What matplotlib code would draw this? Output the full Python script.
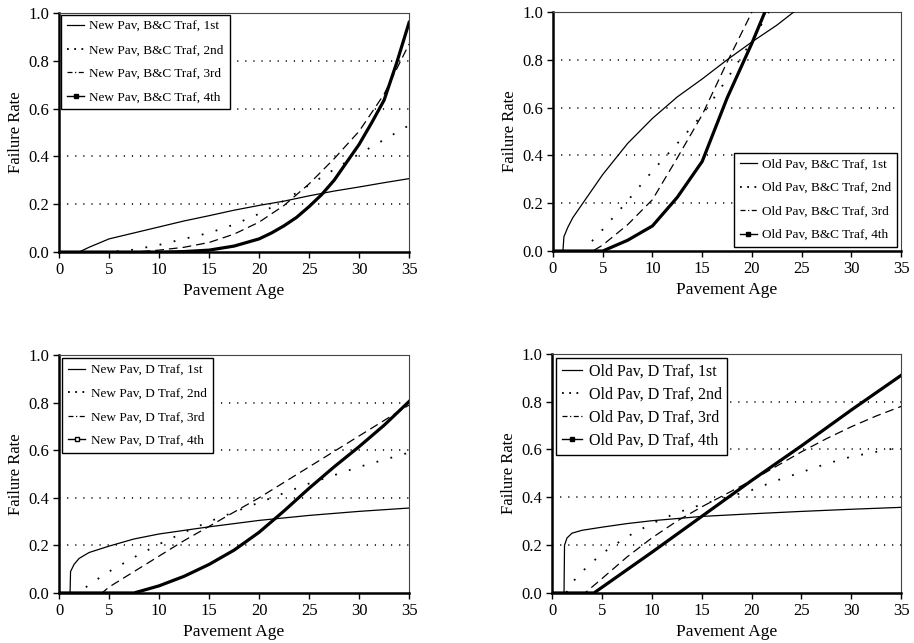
import matplotlib.pyplot as plt
from matplotlib.lines import Line2D

plt.rcParams['font.family'] = ['Liberation Serif', 'DejaVu Serif']

# ---- New pavement, B&C traffic ----
nb_age1 = [0, 2, 3, 5, 7.5, 10, 12.5, 15, 17.5, 20, 22.5, 25, 27.5, 30, 32.5, 35]
nb_rate1 = [0, 0, 0.02, 0.055, 0.08, 0.105, 0.13, 0.152, 0.175, 0.195, 0.213, 0.235, 0.255, 0.272, 0.29, 0.307]
nb_age2 = [0, 5, 7.5, 10, 12.5, 15, 17.5, 20, 22.5, 25, 27.5, 30, 32.5, 35]
nb_rate2 = [0, 0, 0.01, 0.03, 0.055, 0.08, 0.115, 0.16, 0.215, 0.28, 0.345, 0.41, 0.47, 0.53]
nb_age3 = [0, 7.5, 10, 12.5, 15, 17.5, 20, 22.5, 25, 27.5, 30, 32.5, 35]
nb_rate3 = [0, 0, 0.008, 0.02, 0.04, 0.075, 0.125, 0.195, 0.285, 0.39, 0.505, 0.66, 0.87]
nb_age4 = [0, 10, 12.5, 15, 17.5, 20, 21.25, 22.5, 23.75, 25, 26.25, 27.5, 28.75, 30, 31.25, 32.5, 33.75, 35]
nb_rate4 = [0, 0, 0.002, 0.008, 0.025, 0.055, 0.08, 0.11, 0.145, 0.19, 0.24, 0.3, 0.375, 0.45, 0.54, 0.635, 0.79, 0.96]

# ---- Old pavement, B&C traffic ----
ob_age1 = [0, 1.0, 1.1, 1.5, 2, 3, 4, 5, 7.5, 10, 12.5, 15, 17.5, 20, 22.5, 24.2]
ob_rate1 = [0, 0, 0.06, 0.1, 0.14, 0.2, 0.26, 0.32, 0.45, 0.555, 0.645, 0.72, 0.8, 0.875, 0.945, 1.0]
ob_age2 = [0, 3, 5, 7.5, 10, 12.5, 15, 17.5, 20, 21.7]
ob_rate2 = [0, 0, 0.09, 0.21, 0.335, 0.45, 0.57, 0.72, 0.88, 1.0]
ob_age3 = [0, 4, 5, 7.5, 10, 12.5, 15, 17.5, 20]
ob_rate3 = [0, 0, 0.025, 0.11, 0.215, 0.39, 0.57, 0.79, 1.0]
ob_age4 = [0, 5, 7.5, 10, 12.5, 15, 17.5, 20, 21.3]
ob_rate4 = [0, 0, 0.045, 0.105, 0.225, 0.375, 0.64, 0.87, 1.0]

# ---- New pavement, D traffic ----
nd_age1 = [0, 1.1, 1.15, 1.5, 2, 3, 5, 7.5, 10, 15, 20, 25, 30, 35]
nd_rate1 = [0, 0, 0.09, 0.12, 0.145, 0.17, 0.197, 0.227, 0.248, 0.278, 0.305, 0.326, 0.343, 0.357]
nd_age2 = [0, 2, 3, 5, 7.5, 10, 12.5, 15, 17.5, 20, 22.5, 25, 27.5, 30, 32.5, 35]
nd_rate2 = [0, 0, 0.035, 0.09, 0.15, 0.205, 0.255, 0.3, 0.34, 0.38, 0.42, 0.46, 0.495, 0.53, 0.56, 0.59]
nd_age3 = [0, 4.3, 5, 7.5, 10, 12.5, 15, 17.5, 20, 22.5, 25, 27.5, 30, 32.5, 35]
nd_rate3 = [0, 0, 0.025, 0.09, 0.155, 0.22, 0.28, 0.34, 0.4, 0.465, 0.53, 0.595, 0.66, 0.725, 0.79]
nd_age4 = [0, 7.5, 10, 12.5, 15, 17.5, 20, 22.5, 25, 27.5, 30, 32.5, 35]
nd_rate4 = [0, 0, 0.03, 0.07, 0.12, 0.18, 0.255, 0.345, 0.44, 0.53, 0.615, 0.705, 0.805]

# ---- Old pavement, D traffic ----
od_age1 = [0, 1.2, 1.25, 1.5, 2, 3, 5, 7.5, 10, 15, 20, 25, 30, 35]
od_rate1 = [0, 0, 0.2, 0.23, 0.25, 0.262, 0.275, 0.29, 0.302, 0.32, 0.331, 0.341, 0.35, 0.358]
od_age2 = [0, 1.4, 2.5, 5, 7.5, 10, 12.5, 15, 17.5, 20, 22.5, 25, 27.5, 30, 32.5, 35]
od_rate2 = [0, 0, 0.07, 0.165, 0.235, 0.29, 0.335, 0.37, 0.4, 0.43, 0.47, 0.505, 0.54, 0.57, 0.59, 0.61]
od_age3 = [0, 3.3, 5, 7.5, 10, 12.5, 15, 17.5, 20, 22.5, 25, 27.5, 30, 32.5, 35]
od_rate3 = [0, 0, 0.06, 0.15, 0.23, 0.3, 0.36, 0.415, 0.47, 0.53, 0.59, 0.645, 0.695, 0.74, 0.78]
od_age4 = [0, 4.2, 10, 15, 20, 25, 30, 35]
od_rate4 = [0, 0, 0.17, 0.32, 0.47, 0.615, 0.765, 0.91]

nb_labels = ['New Pav, B&C Traf, 1st', 'New Pav, B&C Traf, 2nd',
             'New Pav, B&C Traf, 3rd', 'New Pav, B&C Traf, 4th']
ob_labels = ['Old Pav, B&C Traf, 1st', 'Old Pav, B&C Traf, 2nd',
             'Old Pav, B&C Traf, 3rd', 'Old Pav, B&C Traf, 4th']
nd_labels = ['New Pav, D Traf, 1st', 'New Pav, D Traf, 2nd',
             'New Pav, D Traf, 3rd', 'New Pav, D Traf, 4th']
od_labels = ['Old Pav, D Traf, 1st', 'Old Pav, D Traf, 2nd',
             'Old Pav, D Traf, 3rd', 'Old Pav, D Traf, 4th']

fig = plt.figure(figsize=(9.14, 6.43), dpi=100)

dot_style = (0, (1, 7))
dash_style = (0, (7, 4))


def draw_panel(rect, series, labels, loc, pad, fsize, lspace=0.85, bpad=0.45, hollow=False):
    ax = fig.add_axes(rect)
    for y in [0.2, 0.4, 0.6, 0.8]:
        ax.axhline(y, color='k', lw=1.1, linestyle=(0, (0.8, 4.5)), zorder=1)
    (a1, r1), (a2, r2), (a3, r3), (a4, r4) = series
    ax.plot(a1, r1, color='k', lw=0.9, zorder=3)
    ax.plot(a2, r2, color='k', lw=1.3, linestyle=dot_style, zorder=3)
    ax.plot(a3, r3, color='k', lw=0.9, linestyle=dash_style, zorder=3)
    ax.plot(a4, r4, color='k', lw=2.3, zorder=4)

    ax.set_xlim(0, 35)
    ax.set_ylim(0, 1.0)
    ax.set_xticks(range(0, 36, 5))
    ax.set_yticks([0, 0.2, 0.4, 0.6, 0.8, 1.0])
    ax.set_yticklabels(['0.0', '0.2', '0.4', '0.6', '0.8', '1.0'])
    ax.tick_params(direction='out', length=4, width=1, labelsize=12, pad=3)
    ax.set_xlabel('Pavement Age', fontsize=12.5, labelpad=4)
    ax.set_ylabel('Failure Rate', fontsize=12, labelpad=3)
    for s in ['left', 'bottom']:
        ax.spines[s].set_linewidth(1.8)
    for s in ['top', 'right']:
        ax.spines[s].set_linewidth(0.8)
        ax.spines[s].set_color('#444444')

    handles = [
        Line2D([], [], color='k', lw=0.9),
        Line2D([], [], color='k', lw=1.3, linestyle=(0, (1, 3))),
        Line2D([], [], color='k', lw=0.9, linestyle=(0, (4, 2, 1, 2))),
        Line2D([], [], color='k', lw=1.0, marker='s', ms=3.5,
               mfc='white' if hollow else 'k', mec='k'),
    ]
    leg = ax.legend(handles, labels, loc=loc, fontsize=fsize, frameon=True,
                    fancybox=False, framealpha=1, edgecolor='k',
                    borderaxespad=pad, handlelength=1.3, handletextpad=0.4,
                    labelspacing=lspace, borderpad=bpad)
    leg.get_frame().set_linewidth(1.0)
    leg.set_zorder(6)
    return ax


draw_panel([0.0646, 0.608, 0.383, 0.372],
           [(nb_age1, nb_rate1), (nb_age2, nb_rate2), (nb_age3, nb_rate3), (nb_age4, nb_rate4)],
           nb_labels, 'upper left', 0.15, 9.5)
draw_panel([0.605, 0.6096, 0.381, 0.3717],
           [(ob_age1, ob_rate1), (ob_age2, ob_rate2), (ob_age3, ob_rate3), (ob_age4, ob_rate4)],
           ob_labels, 'lower right', 0.3, 9.5)
draw_panel([0.0646, 0.0778, 0.383, 0.370],
           [(nd_age1, nd_rate1), (nd_age2, nd_rate2), (nd_age3, nd_rate3), (nd_age4, nd_rate4)],
           nd_labels, 'upper left', 0.25, 9.5, hollow=True)
draw_panel([0.604, 0.0778, 0.382, 0.372],
           [(od_age1, od_rate1), (od_age2, od_rate2), (od_age3, od_rate3), (od_age4, od_rate4)],
           od_labels, 'upper left', 0.25, 11.5, lspace=0.45, bpad=0.35)

fig.savefig('out.png', dpi=100)
